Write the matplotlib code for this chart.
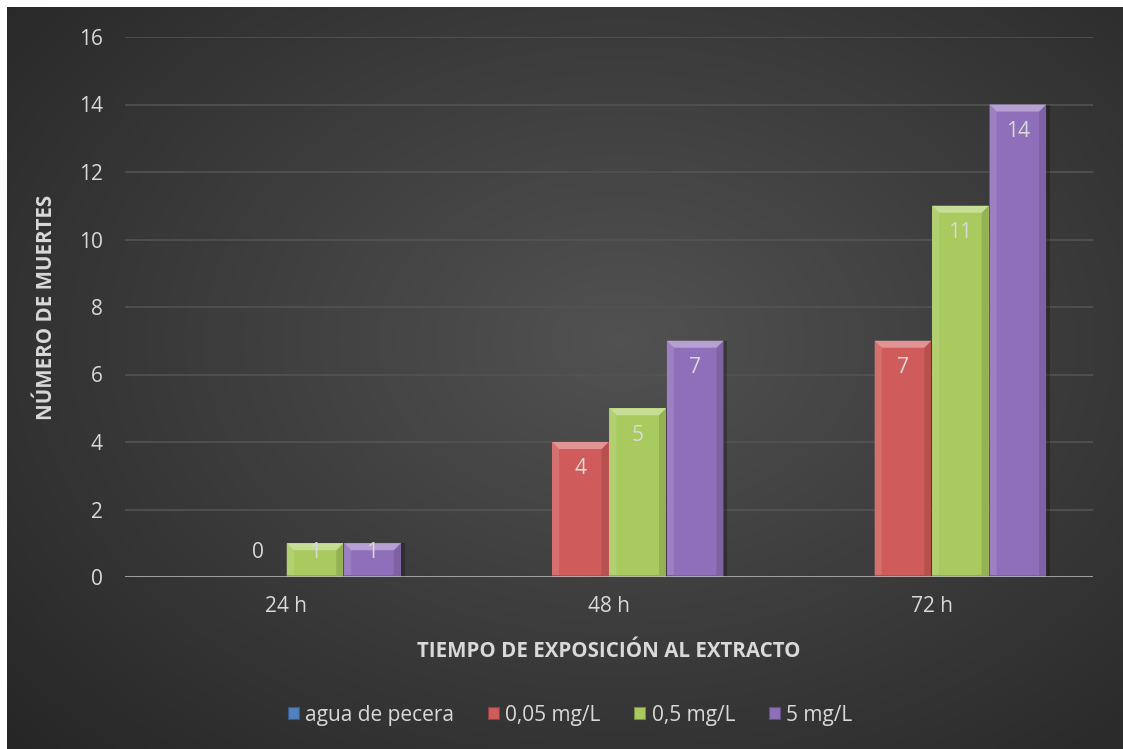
import numpy as np
import matplotlib
matplotlib.use("Agg")
import matplotlib.pyplot as plt
from matplotlib.patches import Polygon, Rectangle
from matplotlib.colors import to_rgb

# ---- data ----
categories = ["24 h", "48 h", "72 h"]
series_names = ["agua de pecera", "0,05 mg/L", "0,5 mg/L", "5 mg/L"]
agua_de_pecera = [0, 0, 0]
mg_005 = [0, 4, 7]
mg_05 = [1, 5, 11]
mg_5 = [1, 7, 14]
series_values = [agua_de_pecera, mg_005, mg_05, mg_5]
show_labels = [False, True, True, True]
y_ticks = [0, 2, 4, 6, 8, 10, 12, 14, 16]

colors = ["#4f81bd", "#cf5c5a", "#a8ca5e", "#8f6fb9"]
text_col = "#d9d9d9"
font = "Open Sans"

W, H = 1123, 749
fig = plt.figure(figsize=(W / 100, H / 100), dpi=100, facecolor="white")

# dark radial-gradient background panel
bg = fig.add_axes([7 / W, 0, 1 - 7 / W, 1 - 7 / H])
bg.set_axis_off()
gx, gy = np.meshgrid(np.linspace(0, 1, 400), np.linspace(0, 1, 300))
r = np.sqrt(((gx - 0.55) / 0.75) ** 2 + ((gy - 0.45) / 0.8) ** 2)
lvl = np.clip(0.32 - 0.17 * r, 0.145, 0.32)
bg.imshow(np.dstack([lvl, lvl, lvl]), extent=[0, 1, 0, 1], aspect="auto",
          origin="upper", interpolation="bilinear")
bg.set_xlim(0, 1)
bg.set_ylim(0, 1)

ax = fig.add_axes([125 / W, (H - 577) / H, (1093 - 125) / W, (577 - 37) / H])
ax.patch.set_alpha(0)
for s in ax.spines.values():
    s.set_visible(False)

x = np.arange(len(categories))
bw = 0.178
n = len(series_values)
ax.set_xlim(-0.5, len(categories) - 0.5)
ax.set_ylim(0, 16)

# pixel sizes converted to data units
px_x = 1 / (968 / 3)
px_y = 16 / 540


def lighten(c, f):
    c = np.array(to_rgb(c))
    return tuple(c + (1 - c) * f)


def darken(c, f):
    return tuple(np.array(to_rgb(c)) * (1 - f))


for i, (vals, col) in enumerate(zip(series_values, colors)):
    xs = x + (i - (n - 1) / 2) * bw
    bars = ax.bar(xs, vals, width=bw * 0.985, color=col, zorder=3, linewidth=0)
    for b, v in zip(bars, vals):
        if v <= 0:
            continue
        x0 = b.get_x()
        x1 = x0 + b.get_width()
        top = b.get_height()
        sh = 7 * px_y
        sw = 7 * px_x
        # soft shadow
        ax.add_patch(Rectangle((x0 + 2 * px_x, 0), x1 - x0 + 2 * px_x, top,
                               color="black", alpha=0.25, zorder=2, lw=0))
        # side bevels
        ax.add_patch(Polygon([(x0, 0), (x0, top), (x0 + sw, top - sh), (x0 + sw, 0)],
                             closed=True, color=lighten(col, 0.12), lw=0, zorder=4))
        ax.add_patch(Polygon([(x1, 0), (x1, top), (x1 - sw, top - sh), (x1 - sw, 0)],
                             closed=True, color=darken(col, 0.12), lw=0, zorder=4))
        # top bevel
        ax.add_patch(Polygon([(x0, top), (x1, top), (x1 - sw, top - sh), (x0 + sw, top - sh)],
                             closed=True, color=lighten(col, 0.35), lw=0, zorder=4))
        # faint bottom band
        ax.add_patch(Rectangle((x0, 0), x1 - x0, 2 * px_y, color=darken(col, 0.15),
                               lw=0, zorder=4))
    if show_labels[i]:
        for xi, v in zip(xs, vals):
            ly = max(v - 27 * px_y, 25 * px_y)
            ax.text(xi, ly, f"{v}", ha="center", va="center", color=text_col,
                    fontsize=15, family=font, zorder=6)

# gridlines and baseline
for t in y_ticks[1:]:
    ax.axhline(t, color="#535353", lw=1.2, zorder=1)
ax.axhline(0, color="#bfbfbf", lw=1.8, zorder=5)

ax.set_yticks(y_ticks)
ax.set_yticklabels([str(t) for t in y_ticks], family=font, fontsize=15, color=text_col)
ax.set_xticks(x)
ax.set_xticklabels(categories, family=font, fontsize=15, color=text_col)
ax.tick_params(axis="y", length=0, pad=16)
ax.tick_params(axis="x", length=0, pad=14)

ax.set_ylabel("NÚMERO DE MUERTES", family=font, fontsize=14.8, fontweight="bold",
              color=text_col, labelpad=16)
ax.set_xlabel("TIEMPO DE EXPOSICIÓN AL EXTRACTO", family=font, fontsize=14.8,
              fontweight="bold", color=text_col, labelpad=17)

handles = [Rectangle((0, 0), 1, 1, facecolor=c, edgecolor=darken(c, 0.3), lw=0.8)
           for c in colors]
fig.legend(handles, series_names, loc="center", bbox_to_anchor=(570 / W, 1 - 715 / H),
           ncol=4, frameon=False, prop={"family": font, "size": 15},
           labelcolor=text_col, handlelength=0.55, handleheight=0.55,
           handletextpad=0.3, columnspacing=1.6)

fig.savefig("out.png", dpi=100, facecolor="white")
